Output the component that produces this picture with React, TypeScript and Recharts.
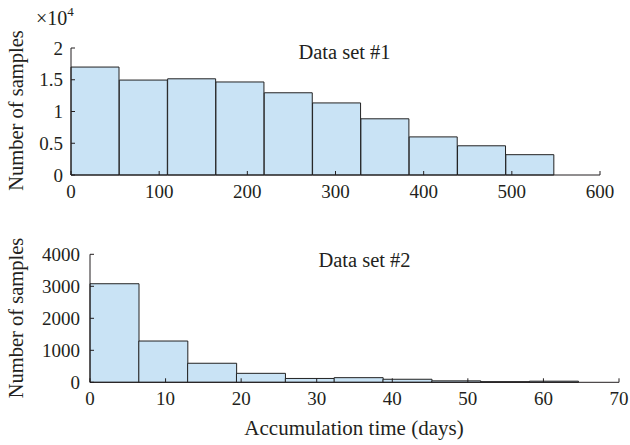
import React from 'react';
import { BarChart, Bar, XAxis, YAxis } from 'recharts';

// Data set #1 histogram: bin centres (days) and sample counts
const binCenters1 = [27.4, 82.2, 137, 191.8, 246.6, 301.4, 356.2, 411, 465.8, 520.6];
const counts1 = [17000, 14950, 15150, 14650, 12950, 11350, 8850, 6000, 4600, 3200];
const xTicks1 = [0, 100, 200, 300, 400, 500, 600];
const yTicks1 = [0, 5000, 10000, 15000, 20000];

// Data set #2 histogram
const binCenters2 = [3.23, 9.69, 16.15, 22.61, 29.08, 35.54, 42.0, 48.46, 54.92, 61.38];
const counts2 = [3080, 1290, 595, 280, 120, 145, 95, 45, 20, 35];
const xTicks2 = [0, 10, 20, 30, 40, 50, 60, 70];
const yTicks2 = [0, 1000, 2000, 3000, 4000];

const FONT = '"Liberation Serif", "Times New Roman", serif';
const INK = '#231f20';
const BAR_FILL = '#c9e3f5';
const BAR_EDGE = '#222222';
const tickStyle = { fontSize: 19, fill: INK, fontFamily: FONT };

const App: React.FC = () => {
  const data1 = binCenters1.map((x, i) => ({ x, count: counts1[i] }));
  const data2 = binCenters2.map((x, i) => ({ x, count: counts2[i] }));

  return (
    <div
      style={{
        position: 'absolute',
        left: 0,
        top: 0,
        width: 630,
        height: 445,
        background: '#fff',
        fontFamily: FONT,
      }}
    >
      <div style={{ position: 'absolute', left: 0, top: 0 }}>
        <BarChart
          width={630}
          height={210}
          data={data1}
          margin={{ top: 48, right: 30, bottom: 0, left: 0 }}
          barCategoryGap={0}
          barGap={0}
        >
          <XAxis
            dataKey="x"
            type="number"
            domain={[0, 600]}
            ticks={xTicks1}
            interval={0}
            height={35}
            tickSize={-4}
            tickMargin={14}
            stroke={INK}
            tick={tickStyle}
          />
          <YAxis
            type="number"
            domain={[0, 20000]}
            ticks={yTicks1}
            interval={0}
            width={71}
            tickSize={-4}
            tickMargin={12}
            stroke={INK}
            tick={tickStyle}
            tickFormatter={(v: number) => String(v / 10000)}
          />
          <Bar dataKey="count" fill={BAR_FILL} stroke={BAR_EDGE} strokeWidth={1} isAnimationActive={false} />
        </BarChart>
      </div>

      <div style={{ position: 'absolute', left: 0, top: 210 }}>
        <BarChart
          width={630}
          height={235}
          data={data2}
          margin={{ top: 44.3, right: 11, bottom: 0, left: 0 }}
          barCategoryGap={0}
          barGap={0}
        >
          <XAxis
            dataKey="x"
            type="number"
            domain={[0, 70]}
            ticks={xTicks2}
            interval={0}
            height={62.7}
            tickSize={-4}
            tickMargin={13}
            stroke={INK}
            tick={tickStyle}
          />
          <YAxis
            type="number"
            domain={[0, 4000]}
            ticks={yTicks2}
            interval={0}
            width={90}
            tickSize={-4}
            tickMargin={14}
            stroke={INK}
            tick={tickStyle}
          />
          <Bar dataKey="count" fill={BAR_FILL} stroke={BAR_EDGE} strokeWidth={1} isAnimationActive={false} />
        </BarChart>
      </div>

      {/* titles, axis labels and the exponent note */}
      <svg
        width={630}
        height={445}
        style={{ position: 'absolute', left: 0, top: 0, pointerEvents: 'none' }}
        fontFamily={FONT}
        fill={INK}
      >
        <text x={36} y={25} fontSize={20}>
          ×10<tspan fontSize={13} dy={-9}>4</tspan>
        </text>
        <text x={344.5} y={59} fontSize={20.5} textAnchor="middle">Data set #1</text>
        <text x={364.5} y={267} fontSize={20.5} textAnchor="middle">Data set #2</text>
        <text transform="translate(23 110.5) rotate(-90)" fontSize={20.5} textAnchor="middle">
          Number of samples
        </text>
        <text transform="translate(23 318) rotate(-90)" fontSize={20.5} textAnchor="middle">
          Number of samples
        </text>
        <text x={354} y={435} fontSize={21} textAnchor="middle">Accumulation time (days)</text>
      </svg>
    </div>
  );
};

export default App;
